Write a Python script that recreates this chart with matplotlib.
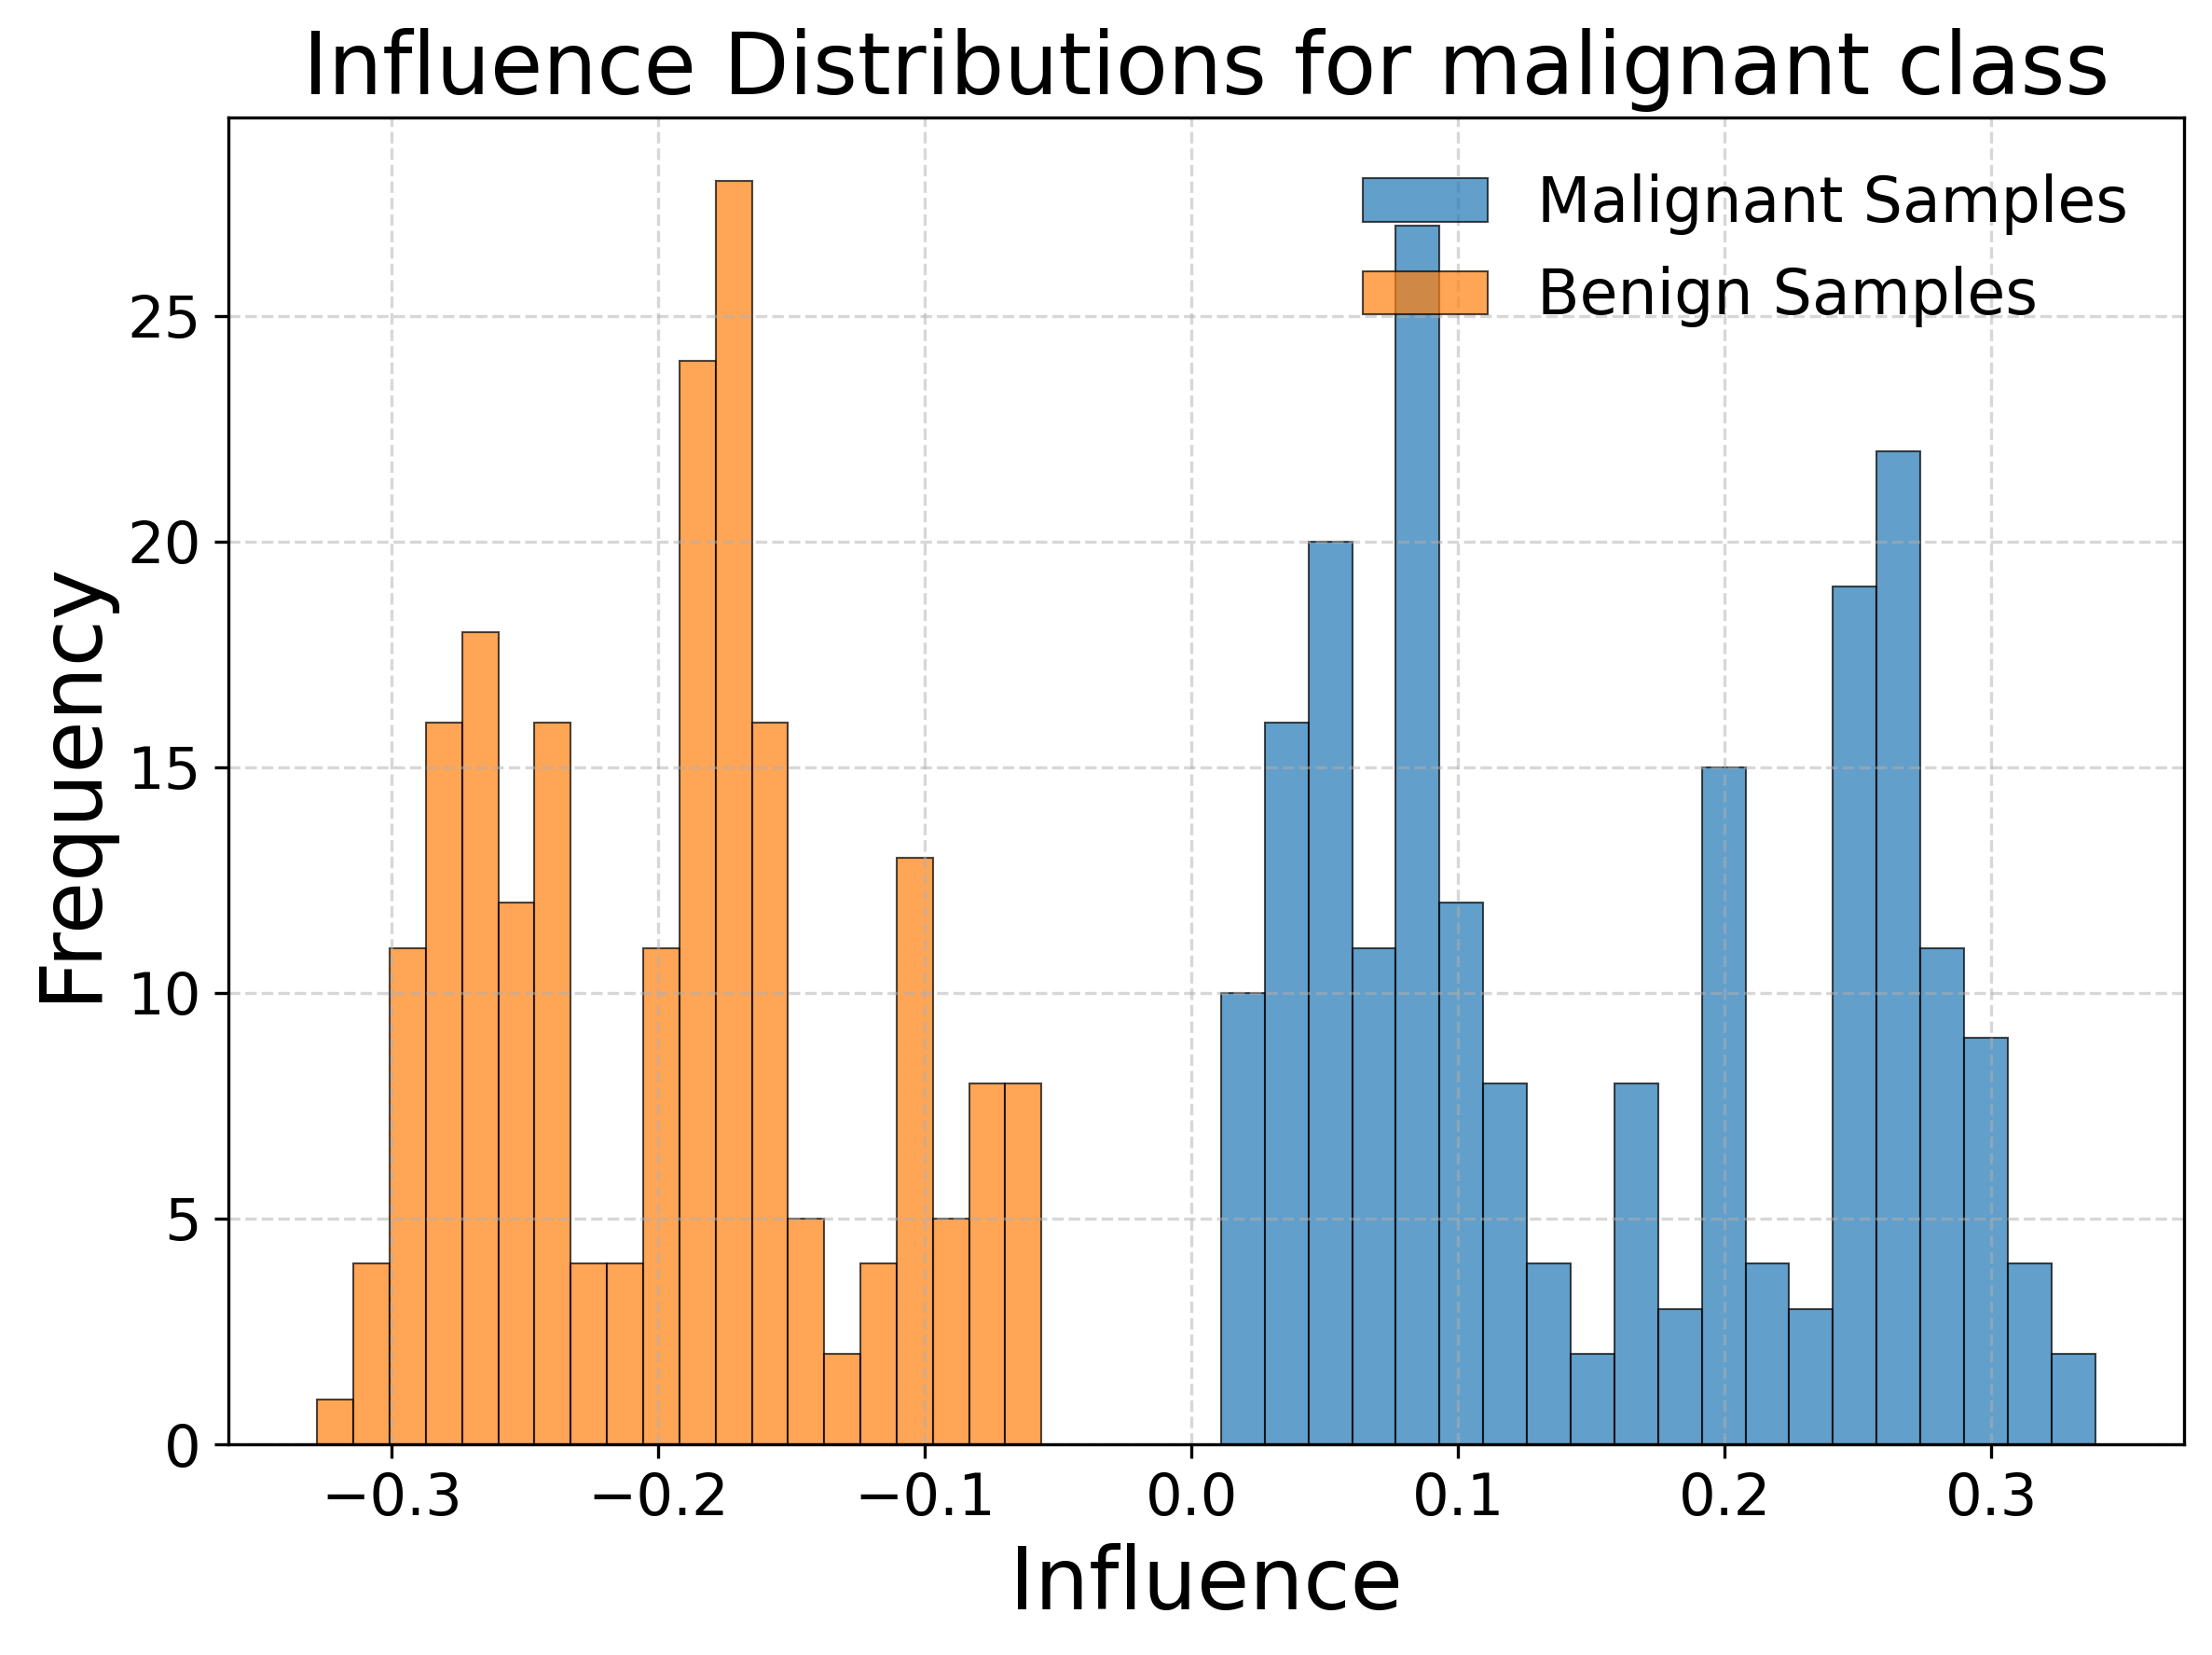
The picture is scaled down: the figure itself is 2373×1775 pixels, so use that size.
import numpy as np
import matplotlib
matplotlib.use('Agg')
from matplotlib import pyplot as plt

# histogram counts (20 bins each)
malignant_counts = [10, 16, 20, 11, 27, 12, 8, 4, 2, 8, 3, 15, 4, 3, 19, 22, 11, 9, 4, 2]
benign_counts = [1, 4, 11, 16, 18, 12, 16, 4, 4, 11, 24, 28, 16, 5, 2, 4, 13, 5, 8, 8]

# range of the influence values per class
malignant_range = (0.0111, 0.3389)
benign_range = (-0.3278, -0.0562)

labels = ['Malignant Samples', 'Benign Samples']

fig = plt.figure(figsize=(2373 / 300, 1775 / 300), dpi=300)
ax = fig.add_axes([245 / 2373, 1 - 1549 / 1775, (2343 - 245) / 2373, (1549 - 126) / 1775])

# mismo esquema que plt.hist con bins=20
m_edges = np.linspace(malignant_range[0], malignant_range[1], len(malignant_counts) + 1)
b_edges = np.linspace(benign_range[0], benign_range[1], len(benign_counts) + 1)

ax.hist(m_edges[:-1], bins=m_edges, weights=malignant_counts, alpha=0.7,
        color='C0', edgecolor='black', linewidth=0.5, label=labels[0])
ax.hist(b_edges[:-1], bins=b_edges, weights=benign_counts, alpha=0.7,
        color='C1', edgecolor='black', linewidth=0.5, label=labels[1])

ax.set_title('Influence Distributions for malignant class', fontsize=22)
ax.set_xlabel('Influence', fontsize=22)
ax.set_ylabel('Frequency', fontsize=22)
ax.tick_params(labelsize=15)
ax.grid(True, linestyle='--', alpha=0.5)
ax.legend(fontsize=16, frameon=False, loc='upper right')

fig.savefig('out.png', dpi=300)
